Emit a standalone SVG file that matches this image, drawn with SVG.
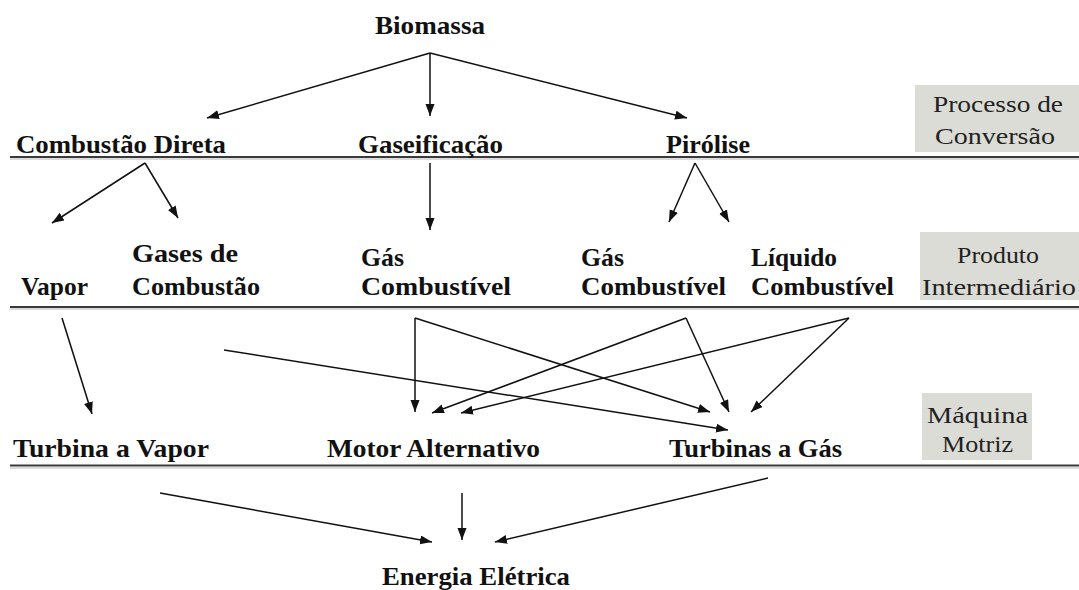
<svg xmlns="http://www.w3.org/2000/svg" width="1079" height="590" viewBox="0 0 1079 590">
  <defs>
    <marker id="ah" markerUnits="userSpaceOnUse" markerWidth="13" markerHeight="10" refX="12" refY="4.5" orient="auto">
      <path d="M0,0 L12,4.5 L0,9 z" fill="#111"/>
    </marker>
    <style>
      .n { font-family: "Liberation Serif", "Times New Roman", serif; font-weight: bold; font-size: 25px; fill: #111; }
      .lbl { font-family: "Liberation Serif", "Times New Roman", serif; font-size: 23px; fill: #222; }
      .box { fill: #dcdcd6; }
      .rule { stroke: #3a3a3a; stroke-width: 2; }
      .shade { stroke: #b8b8b8; stroke-width: 1.2; }
      .arr { stroke: #111; stroke-width: 1.5; fill: none; marker-end: url(#ah); }
    </style>
  </defs>
  <rect width="1079" height="590" fill="#fff"/>

  <!-- level dividers -->
  <g id="rules">
    <line class="shade" x1="10" y1="159" x2="1079" y2="159"/>
    <line class="rule" x1="10" y1="157" x2="1079" y2="157"/>
    <line class="shade" x1="10" y1="309" x2="1079" y2="309"/>
    <line class="rule" x1="10" y1="307" x2="1079" y2="307"/>
    <line class="shade" x1="10" y1="468" x2="1079" y2="468"/>
    <line class="rule" x1="10" y1="465.5" x2="1079" y2="465.5" stroke-width="3"/>
  </g>

  <!-- stage labels -->
  <g id="stage-conversion">
    <rect class="box" x="915" y="85" width="164" height="67"/>
    <text class="lbl" x="933" y="112" textLength="130" lengthAdjust="spacingAndGlyphs">Processo de</text>
    <text class="lbl" x="935" y="144" textLength="120" lengthAdjust="spacingAndGlyphs">Conversão</text>
  </g>
  <g id="stage-product">
    <rect class="box" x="920" y="232" width="159" height="68"/>
    <text class="lbl" x="957" y="263" textLength="82" lengthAdjust="spacingAndGlyphs">Produto</text>
    <text class="lbl" x="922" y="295" textLength="154" lengthAdjust="spacingAndGlyphs">Intermediário</text>
  </g>
  <g id="stage-machine">
    <rect class="box" x="922" y="393" width="110" height="67"/>
    <text class="lbl" x="927" y="423" textLength="101" lengthAdjust="spacingAndGlyphs">Máquina</text>
    <text class="lbl" x="942" y="452" textLength="71" lengthAdjust="spacingAndGlyphs">Motriz</text>
  </g>

  <!-- nodes -->
  <g id="biomassa"><text class="n" x="375" y="34" textLength="110" lengthAdjust="spacingAndGlyphs">Biomassa</text></g>
  <g id="combustao-direta"><text class="n" x="16" y="153" textLength="210" lengthAdjust="spacingAndGlyphs">Combustão Direta</text></g>
  <g id="gaseificacao"><text class="n" x="358" y="153" textLength="145" lengthAdjust="spacingAndGlyphs">Gaseificação</text></g>
  <g id="pirolise"><text class="n" x="666" y="153" textLength="84" lengthAdjust="spacingAndGlyphs">Pirólise</text></g>

  <g id="vapor"><text class="n" x="21" y="295" textLength="67" lengthAdjust="spacingAndGlyphs">Vapor</text></g>
  <g id="gases-combustao">
    <text class="n" x="132" y="262" textLength="106" lengthAdjust="spacingAndGlyphs">Gases de</text>
    <text class="n" x="132" y="295" textLength="128" lengthAdjust="spacingAndGlyphs">Combustão</text>
  </g>
  <g id="gas-combustivel-1">
    <text class="n" x="361" y="266" textLength="43" lengthAdjust="spacingAndGlyphs">Gás</text>
    <text class="n" x="361" y="295" textLength="150" lengthAdjust="spacingAndGlyphs">Combustível</text>
  </g>
  <g id="gas-combustivel-2">
    <text class="n" x="581" y="266" textLength="43" lengthAdjust="spacingAndGlyphs">Gás</text>
    <text class="n" x="581" y="295" textLength="145" lengthAdjust="spacingAndGlyphs">Combustível</text>
  </g>
  <g id="liquido-combustivel">
    <text class="n" x="751" y="266" textLength="86" lengthAdjust="spacingAndGlyphs">Líquido</text>
    <text class="n" x="751" y="295" textLength="143" lengthAdjust="spacingAndGlyphs">Combustível</text>
  </g>

  <g id="turbina-vapor"><text class="n" x="13" y="457" textLength="196" lengthAdjust="spacingAndGlyphs">Turbina a Vapor</text></g>
  <g id="motor-alternativo"><text class="n" x="327" y="457" textLength="213" lengthAdjust="spacingAndGlyphs">Motor Alternativo</text></g>
  <g id="turbinas-gas"><text class="n" x="669" y="457" textLength="173" lengthAdjust="spacingAndGlyphs">Turbinas a Gás</text></g>

  <g id="energia-eletrica"><text class="n" x="382" y="585" textLength="188" lengthAdjust="spacingAndGlyphs">Energia Elétrica</text></g>

  <!-- connectors -->
  <g id="connectors">
    <line class="arr" x1="430" y1="53" x2="207" y2="118"/>
    <line class="arr" x1="430" y1="53" x2="430" y2="116"/>
    <line class="arr" x1="430" y1="53" x2="687" y2="118"/>

    <line class="arr" x1="145" y1="163" x2="52" y2="223"/>
    <line class="arr" x1="145" y1="163" x2="178" y2="218"/>
    <line class="arr" x1="430" y1="163" x2="430" y2="230"/>
    <line class="arr" x1="695" y1="163" x2="669" y2="222"/>
    <line class="arr" x1="695" y1="163" x2="729" y2="222"/>

    <line class="arr" x1="62" y1="318" x2="92" y2="414"/>
    <line class="arr" x1="224" y1="350" x2="728" y2="430"/>
    <line class="arr" x1="415" y1="318" x2="415" y2="412"/>
    <line class="arr" x1="415" y1="318" x2="710" y2="412"/>
    <line class="arr" x1="686" y1="318" x2="729" y2="412"/>
    <line class="arr" x1="686" y1="318" x2="432" y2="413"/>
    <line class="arr" x1="849" y1="318" x2="461" y2="413"/>
    <line class="arr" x1="849" y1="318" x2="751" y2="412"/>

    <line class="arr" x1="160" y1="493" x2="432" y2="542"/>
    <line class="arr" x1="462" y1="493" x2="462" y2="540"/>
    <line class="arr" x1="768" y1="478" x2="495" y2="542"/>
  </g>
</svg>
